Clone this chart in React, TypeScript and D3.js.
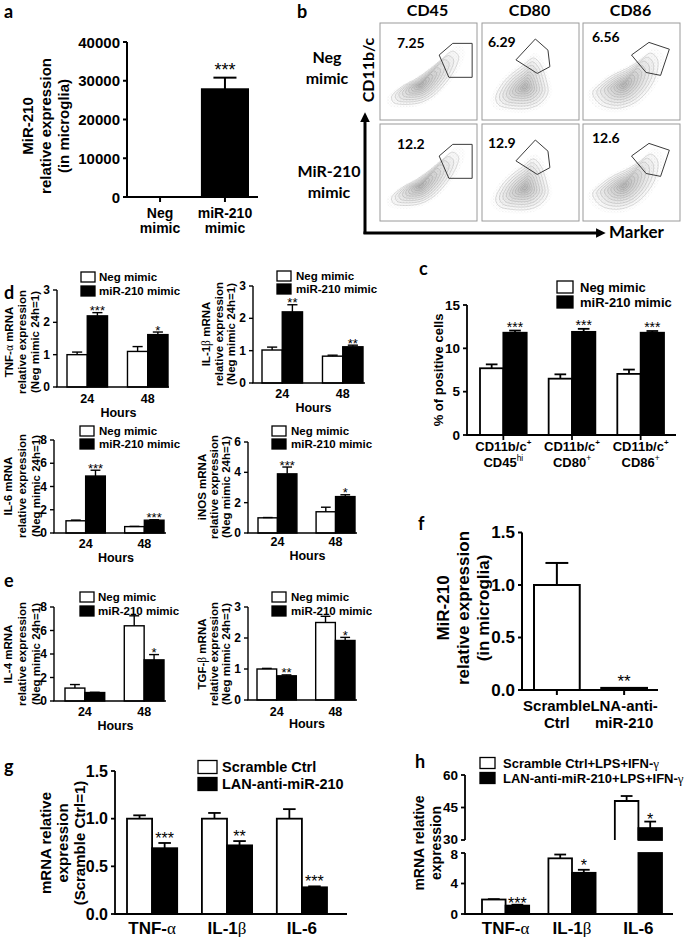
import React from "react";
import * as d3 from "d3";

const ARIAL = "'Liberation Sans', Arial, Helvetica, sans-serif";
const CAL = "Lato, 'Open Sans', sans-serif";
const SERIF = "'Liberation Serif', 'DejaVu Serif', serif";

// ---------------- data ----------------
// a
const aCategories = ["Neg mimic", "miR-210 mimic"];
const aValues = [1, 27800];
const aErrors = [0, 3000];
const aStars = ["", "***"];
const aTicks = [0, 10000, 20000, 30000, 40000];

// b (flow cytometry)
const flowMarkers = ["CD45", "CD80", "CD86"];
const flowRowLabels = [["Neg", "mimic"], ["MiR-210", "mimic"]];
const flowPercents = [["7.25", "6.29", "6.56"], ["12.2", "12.9", "12.6"]];
const flowGates: [number, number][][] = [
  [[0.61, 0.33], [0.75, 0.21], [0.95, 0.21], [0.95, 0.56], [0.71, 0.56]],
  [[0.35, 0.38], [0.55, 0.165], [0.68, 0.28], [0.7, 0.45], [0.57, 0.52]],
  [[0.5, 0.33], [0.68, 0.2], [0.89, 0.27], [0.8, 0.54], [0.65, 0.51]],
];
const flowClouds: [number, number][][] = [
  [[0.12, 0.76], [0.22, 0.66], [0.38, 0.57], [0.52, 0.47], [0.64, 0.37], [0.75, 0.29], [0.81, 0.34], [0.77, 0.48], [0.66, 0.64], [0.55, 0.75], [0.42, 0.82], [0.25, 0.84], [0.14, 0.82]],
  [[0.14, 0.78], [0.2, 0.64], [0.3, 0.53], [0.42, 0.44], [0.53, 0.36], [0.6, 0.42], [0.66, 0.58], [0.68, 0.72], [0.6, 0.83], [0.48, 0.88], [0.3, 0.88], [0.18, 0.85]],
  [[0.1, 0.72], [0.2, 0.61], [0.32, 0.53], [0.45, 0.47], [0.58, 0.39], [0.7, 0.31], [0.77, 0.38], [0.75, 0.55], [0.65, 0.72], [0.52, 0.83], [0.35, 0.88], [0.18, 0.84]],
];
const flowCloudCenters: [number, number][] = [[0.42, 0.64], [0.44, 0.66], [0.42, 0.64]];

// d, e
const hourCategories = ["24", "48"];
const mimicSeries = ["Neg mimic", "miR-210 mimic"];
const tnfNeg = [1.0, 1.1];
const tnfNegErr = [0.08, 0.15];
const tnfMiR = [2.2, 1.62];
const tnfMiRErr = [0.1, 0.08];
const tnfStars = ["***", "*"];
const il1bNeg = [1.02, 0.83];
const il1bNegErr = [0.09, 0.03];
const il1bMiR = [2.2, 1.12];
const il1bMiRErr = [0.22, 0.05];
const il1bStars = ["**", "**"];
const il6Neg = [1.05, 0.55];
const il6NegErr = [0.06, 0.02];
const il6MiR = [4.9, 1.1];
const il6MiRErr = [0.5, 0.04];
const il6Stars = ["***", "***"];
const inosNeg = [1.0, 1.4];
const inosNegErr = [0.02, 0.3];
const inosMiR = [3.9, 2.4];
const inosMiRErr = [0.45, 0.12];
const inosStars = ["***", "*"];
const il4Neg = [1.1, 6.4];
const il4NegErr = [0.3, 0.85];
const il4MiR = [0.72, 3.5];
const il4MiRErr = [0.02, 0.45];
const il4Stars = ["", "*"];
const tgfNeg = [1.0, 2.5];
const tgfNegErr = [0.02, 0.2];
const tgfMiR = [0.78, 1.92];
const tgfMiRErr = [0.03, 0.1];
const tgfStars = ["**", "*"];
const ticks3 = [0, 1, 2, 3];
const ticks6 = [0, 2, 4, 6];
const ticks8 = [0, 2, 4, 6, 8];

// c
const cMarkers = ["CD45", "CD80", "CD86"];
const cMarkerSups = ["hi", "+", "+"];
const cNeg = [7.7, 6.5, 7.05];
const cNegErr = [0.45, 0.5, 0.5];
const cMiR = [11.8, 11.9, 11.8];
const cMiRErr = [0.25, 0.35, 0.2];
const cStars = ["***", "***", "***"];
const cTicks = [0, 5, 10, 15];

// f
const fCategories = ["Scramble Ctrl", "LNA-anti- miR-210"];
const fValues = [1.0, 0.02];
const fErrors = [0.21, 0];
const fStars = ["", "**"];
const fTicks = [0, 0.5, 1.0, 1.5];

// g
const cytokines = ["TNF-α", "IL-1β", "IL-6"];
const gSeries = ["Scramble Ctrl", "LAN-anti-miR-210"];
const gScramble = [1.0, 1.0, 1.0];
const gScrambleErr = [0.035, 0.06, 0.1];
const gLAN = [0.69, 0.72, 0.28];
const gLANErr = [0.055, 0.045, 0.01];
const gStars = ["***", "**", "***"];
const gTicks = [0, 0.5, 1.0, 1.5];

// h
const hSeries = ["Scramble Ctrl+LPS+IFN-γ", "LAN-anti-miR-210+LPS+IFN-γ"];
const hScramble = [1.9, 7.3, 48];
const hScrambleErr = [0.05, 0.5, 2.3];
const hLAN = [1.1, 5.4, 35.5];
const hLANErr = [0.12, 0.4, 3];
const hStars = ["***", "*", "*"];
const hLowTicks = [0, 4, 8];
const hHighTicks = [30, 45, 60];

// ---------------- helpers ----------------
function G({ s }: { s: string }) {
  const parts = s.split(/([α-ω])/);
  return (
    <>
      {parts.map((p, i) =>
        /[α-ω]/.test(p) ? (
          <tspan key={i} fontFamily={SERIF} fontWeight="normal">{p}</tspan>
        ) : p ? (
          <tspan key={i}>{p}</tspan>
        ) : null
      )}
    </>
  );
}

type Series = { values: number[]; errors: number[]; fill: string | string[] };
type Legend = { labels: string[]; fills: string[]; boxX: number; boxW: number; boxH: number; textX: number; ys: number[]; font: number };
type Title = { lines: string[]; xs: number[]; cy: number; font: number };

function LegendBlock({ l }: { l: Legend }) {
  return (
    <g fontFamily={ARIAL} fontWeight="bold">
      {l.labels.map((lab, i) => (
        <g key={i}>
          <rect x={l.boxX} y={l.ys[i] - l.boxH / 2} width={l.boxW} height={l.boxH} fill={l.fills[i]} stroke="#000" strokeWidth={1.3} />
          <text x={l.textX} y={l.ys[i]} dominantBaseline="central" fontSize={l.font}><G s={lab} /></text>
        </g>
      ))}
    </g>
  );
}

function TitleBlock({ t }: { t: Title }) {
  return (
    <g fontFamily={ARIAL} fontWeight="bold" fontSize={t.font}>
      {t.lines.map((ln, i) => (
        <text key={i} transform={`translate(${t.xs[i]},${t.cy}) rotate(-90)`} textAnchor="middle" dominantBaseline="central"><G s={ln} /></text>
      ))}
    </g>
  );
}

type BarProps = {
  axisX: number; y0: number; yTop: number; yMax: number; ticks: number[];
  tickFmt?: (v: number) => string; tickFont: number;
  bandRange: [number, number]; padInner: number; xEnd: number;
  categories: string[]; series: Series[]; stars: string[]; starFont: number; starGap: number;
  xTicks?: boolean; xLabels: React.ReactNode[][]; xLabelYs: number[]; xLabelFont: number;
  xTitle?: { text: string; y: number; font: number };
  title: Title; legend?: Legend; sw: number;
};

function BarChart(p: BarProps) {
  const y = d3.scaleLinear().domain([0, p.yMax]).range([p.y0, p.yTop]);
  const xb = d3.scaleBand<string>().domain(p.categories).range(p.bandRange).paddingInner(p.padInner).paddingOuter(0);
  const n = p.series.length;
  const bw = xb.bandwidth() / n;
  const fmt = p.tickFmt ?? ((v: number) => String(v));
  const last = p.series[n - 1];
  const tl = 4;
  return (
    <g fontFamily={ARIAL} fontWeight="bold">
      {p.series.map((s, si) =>
        s.values.map((v, i) => {
          const x0 = (xb(p.categories[i]) as number) + si * bw;
          const top = y(v);
          const fill = Array.isArray(s.fill) ? s.fill[i] : s.fill;
          return <rect key={`b${si}-${i}`} x={x0} y={top} width={bw} height={Math.max(0, p.y0 - top)} fill={fill} stroke="#000" strokeWidth={p.sw} />;
        })
      )}
      {p.series.map((s, si) =>
        s.values.map((v, i) => {
          const e = s.errors[i];
          if (!(e > 0)) return null;
          const cx = (xb(p.categories[i]) as number) + si * bw + bw / 2;
          const et = y(v + e);
          return (
            <g key={`e${si}-${i}`} stroke="#000" strokeWidth={p.sw}>
              <line x1={cx} x2={cx} y1={y(v)} y2={et} />
              <line x1={cx - bw * 0.25} x2={cx + bw * 0.25} y1={et} y2={et} />
            </g>
          );
        })
      )}
      {last.values.map((v, i) => {
        if (!p.stars[i]) return null;
        const cx = (xb(p.categories[i]) as number) + (n - 1) * bw + bw / 2;
        const et = y(v + (last.errors[i] || 0));
        return (
          <text key={`s${i}`} x={cx} y={et - p.starGap + 0.43 * p.starFont} textAnchor="middle" fontSize={p.starFont} fontWeight="normal">{p.stars[i]}</text>
        );
      })}
      <line x1={p.axisX} x2={p.axisX} y1={p.y0} y2={p.yTop} stroke="#000" strokeWidth={p.sw} />
      <line x1={p.axisX - p.sw / 2} x2={p.xEnd} y1={p.y0} y2={p.y0} stroke="#000" strokeWidth={p.sw} />
      {p.ticks.map((t, i) => (
        <g key={`t${i}`}>
          <line x1={p.axisX - tl} x2={p.axisX} y1={y(t)} y2={y(t)} stroke="#000" strokeWidth={p.sw} />
          <text x={p.axisX - tl - 3} y={y(t)} textAnchor="end" dominantBaseline="central" fontSize={p.tickFont}>{fmt(t)}</text>
        </g>
      ))}
      {p.xTicks && p.categories.map((c, i) => {
        const cx = (xb(c) as number) + xb.bandwidth() / 2;
        return <line key={`xt${i}`} x1={cx} x2={cx} y1={p.y0} y2={p.y0 + 5} stroke="#000" strokeWidth={p.sw} />;
      })}
      {p.categories.map((c, i) => {
        const cx = (xb(c) as number) + xb.bandwidth() / 2;
        return (p.xLabels[i] || []).map((ln, j) => (
          <text key={`xl${i}-${j}`} x={cx} y={p.xLabelYs[j]} textAnchor="middle" fontSize={p.xLabelFont}>{ln}</text>
        ));
      })}
      {p.xTitle && (
        <text x={(p.bandRange[0] + p.bandRange[1]) / 2 + 1} y={p.xTitle.y} textAnchor="middle" fontSize={p.xTitle.font}>{p.xTitle.text}</text>
      )}
      <TitleBlock t={p.title} />
      {p.legend && <LegendBlock l={p.legend} />}
    </g>
  );
}

// ---------------- flow panel ----------------
const flowColX = [380, 482, 583];
const flowRowY = [23, 124];
const flowW = 97;
const flowH = 97;
const flowPctDx = [17, 6, 9];
const flowPctDy = [25, 24, 19];

function FlowPanel() {
  const cloudLine = d3.line<[number, number]>().curve(d3.curveCatmullRomClosed.alpha(0.5));
  const gateLine = d3.line<[number, number]>();
  const levels = [1, 0.87, 0.75, 0.63, 0.52, 0.42, 0.32, 0.23, 0.15, 0.08];
  return (
    <g>
      <defs>
        <pattern id="dots" width="3.1" height="3.1" patternUnits="userSpaceOnUse">
          <circle cx="0.7" cy="0.8" r="0.4" fill="#444" />
          <circle cx="2.3" cy="2.3" r="0.35" fill="#777" />
        </pattern>
        <marker id="arrowHead" viewBox="0 0 10 10" refX="2" refY="5" markerWidth="3.2" markerHeight="3.2" orient="auto">
          <path d="M0,0 L10,5 L0,10 z" fill="#000" />
        </marker>
      </defs>
      {flowRowY.map((by, r) =>
        flowColX.map((bx, c) => {
          const sx = d3.scaleLinear().domain([0, 1]).range([bx, bx + flowW]);
          const sy = d3.scaleLinear().domain([0, 1]).range([by, by + flowH]);
          const [ox, oy] = flowCloudCenters[c];
          const scaled = (k: number) => flowClouds[c].map(([px, py]) => [sx(ox + (px - ox) * k), sy(oy + (py - oy) * k)] as [number, number]);
          const gate = gateLine(flowGates[c].map(([gx, gy]) => [sx(gx), sy(gy)] as [number, number])) + "Z";
          return (
            <g key={`f${r}${c}`}>
              <rect x={bx} y={by} width={flowW} height={flowH} fill="#fff" stroke="#9a9a9a" strokeWidth={1} />
              <path d={cloudLine(scaled(1.17)) || ""} fill="url(#dots)" opacity={0.3} />
              {levels.map((k, li) => (
                <path key={li} d={cloudLine(scaled(k)) || ""} fill="#000" fillOpacity={0.028} stroke="#777" strokeOpacity={0.55} strokeWidth={0.45} />
              ))}
              <path d={gate} fill="none" stroke="#3a3a3a" strokeWidth={1} />
              <text x={bx + flowPctDx[c]} y={by + flowPctDy[c]} fontFamily={CAL} fontWeight="bold" fontSize={14}>{flowPercents[r][c]}</text>
            </g>
          );
        })
      )}
      {flowMarkers.map((m, c) => (
        <text key={m} x={flowColX[c] + flowW / 2 - 1} y={16} textAnchor="middle" fontFamily={CAL} fontWeight="bold" fontSize={16}>{m}</text>
      ))}
      {flowRowLabels.map((lines, r) =>
        lines.map((ln, j) => (
          <text key={`${r}${j}`} x={r === 0 ? 327 : 329} y={(r === 0 ? [63, 84] : [177, 198])[j]} textAnchor="middle" fontFamily={CAL} fontWeight="bold" fontSize={16}>{ln}</text>
        ))
      )}
      <text transform="translate(367,70) rotate(-90)" textAnchor="middle" dominantBaseline="central" fontFamily={CAL} fontWeight="bold" fontSize={16}>CD11b/c</text>
      <line x1={365} y1={234} x2={365} y2={120} stroke="#000" strokeWidth={3} markerEnd="url(#arrowHead)" />
      <line x1={363.5} y1={233} x2={598} y2={233} stroke="#000" strokeWidth={3} markerEnd="url(#arrowHead)" />
      <text x={609} y={238} fontFamily={CAL} fontWeight="bold" fontSize={17}>Marker</text>
    </g>
  );
}

// ---------------- panel h (broken axis) ----------------
function PanelH() {
  const axisX = 465, xEnd = 673, base = 914, sw = 1.8;
  const breakLow = 853, breakHigh = 840;
  const yLow = d3.scaleLinear().domain([0, 8]).range([base, breakLow]);
  const yHigh = d3.scaleLinear().domain([30, 60]).range([breakHigh, 775]);
  const xb = d3.scaleBand<string>().domain(cytokines).range([482, 662]).paddingInner(0.29).paddingOuter(0);
  const bw = xb.bandwidth() / 2;
  const series = [
    { values: hScramble, errors: hScrambleErr, fill: "#fff" },
    { values: hLAN, errors: hLANErr, fill: "#000" },
  ];
  const yOf = (v: number) => (v > 8 ? yHigh(v) : yLow(v));
  return (
    <g fontFamily={ARIAL} fontWeight="bold">
      {series.map((s, si) =>
        s.values.map((v, i) => {
          const x0 = (xb(cytokines[i]) as number) + si * bw;
          const cx = x0 + bw / 2;
          const e = s.errors[i];
          const et = yOf(v + e);
          const parts: React.ReactNode[] = [];
          if (v > 8) {
            const top = yHigh(v);
            if (s.fill === "#000") {
              parts.push(<rect key="u" x={x0} y={top} width={bw} height={breakHigh - top} fill="#000" stroke="#000" strokeWidth={sw} />);
              parts.push(<rect key="l" x={x0} y={breakLow} width={bw} height={base - breakLow} fill="#000" stroke="#000" strokeWidth={sw} />);
            } else {
              parts.push(<rect key="uf" x={x0} y={top} width={bw} height={breakHigh - top} fill="#fff" />);
              parts.push(<path key="u" d={`M${x0},${breakHigh}V${top}H${x0 + bw}V${breakHigh}`} fill="none" stroke="#000" strokeWidth={sw} />);
            }
          } else {
            const top = yLow(v);
            parts.push(<rect key="b" x={x0} y={top} width={bw} height={base - top} fill={s.fill} stroke="#000" strokeWidth={sw} />);
          }
          if (e > 0) {
            parts.push(<line key="e1" x1={cx} x2={cx} y1={yOf(v)} y2={et} stroke="#000" strokeWidth={sw} />);
            parts.push(<line key="e2" x1={cx - bw * 0.25} x2={cx + bw * 0.25} y1={et} y2={et} stroke="#000" strokeWidth={sw} />);
          }
          return <g key={`h${si}-${i}`}>{parts}</g>;
        })
      )}
      {hLAN.map((v, i) => {
        const cx = (xb(cytokines[i]) as number) + bw * 1.5;
        const et = yOf(v + hLANErr[i]);
        const gap = i === 1 ? 6 : 3;
        return <text key={`hs${i}`} x={cx} y={et - gap + 0.43 * 16} textAnchor="middle" fontSize={16} fontWeight="normal">{hStars[i]}</text>;
      })}
      <line x1={axisX} x2={axisX} y1={base} y2={breakLow} stroke="#000" strokeWidth={sw} />
      <line x1={axisX} x2={axisX} y1={breakHigh} y2={775} stroke="#000" strokeWidth={sw} />
      <line x1={axisX - sw / 2} x2={xEnd} y1={base} y2={base} stroke="#000" strokeWidth={sw} />
      {hLowTicks.map((t) => (
        <g key={`lt${t}`}>
          <line x1={axisX - 4} x2={axisX} y1={yLow(t)} y2={yLow(t)} stroke="#000" strokeWidth={sw} />
          <text x={axisX - 7} y={yLow(t) + (t === 8 ? 1 : 0)} textAnchor="end" dominantBaseline="central" fontSize={13.5}>{t}</text>
        </g>
      ))}
      {hHighTicks.map((t) => (
        <g key={`ht${t}`}>
          <line x1={axisX - 4} x2={axisX} y1={yHigh(t)} y2={yHigh(t)} stroke="#000" strokeWidth={sw} />
          <text x={axisX - 7} y={yHigh(t) - (t === 30 ? 1 : 0)} textAnchor="end" dominantBaseline="central" fontSize={13.5}>{t}</text>
        </g>
      ))}
      {cytokines.map((c) => (
        <text key={c} x={(xb(c) as number) + xb.bandwidth() / 2} y={934} textAnchor="middle" fontSize={17}><G s={c} /></text>
      ))}
      <TitleBlock t={{ lines: ["mRNA relative", "expression"], xs: [419, 436], cy: 843, font: 14 }} />
      <LegendBlock l={{ labels: hSeries, fills: ["#fff", "#000"], boxX: 480, boxW: 15, boxH: 11, textX: 503, ys: [763, 778], font: 13 }} />
    </g>
  );
}

// ---------------- App ----------------
const dTitleTail = ["relative expression", "(Neg mimic 24h=1)"];
const hoursLabels = hourCategories.map((h) => [h]);

export default function App() {
  const mimicLegend = (boxX: number, textX: number, ys: number[]): Legend => ({
    labels: mimicSeries, fills: ["#fff", "#000"], boxX, boxW: 14, boxH: 10, textX, ys, font: 11.5,
  });
  const dCommon = {
    tickFont: 12, padInner: 0.33, categories: hourCategories, starFont: 13, starGap: 3,
    xLabels: hoursLabels, xLabelFont: 12.5, sw: 1.4,
  };
  const pair = (neg: number[], negE: number[], mir: number[], mirE: number[]): Series[] => [
    { values: neg, errors: negE, fill: "#fff" },
    { values: mir, errors: mirE, fill: "#000" },
  ];
  const letters: [string, number, number][] = [
    ["a", 4, 18], ["b", 297, 18], ["c", 419, 275], ["d", 4, 299], ["e", 4, 587], ["f", 418, 530], ["g", 4, 773], ["h", 415, 768],
  ];
  return (
    <svg width={686} height={937} viewBox="0 0 686 937" xmlns="http://www.w3.org/2000/svg"
      style={{ position: "absolute", left: 0, top: 0, background: "#fff" }}>
      <rect width={686} height={937} fill="#fff" />
      {letters.map(([l, x, y]) => (
        <text key={l} x={x} y={y} fontFamily={CAL} fontWeight="bold" fontSize={18}>{l}</text>
      ))}

      {/* a */}
      <BarChart axisX={127} y0={197} yTop={42} yMax={40000} ticks={aTicks} tickFont={15}
        bandRange={[137, 248]} padInner={0.29} xEnd={258} categories={aCategories}
        series={[{ values: aValues, errors: aErrors, fill: "#000" }]} stars={aStars} starFont={18} starGap={9}
        xTicks xLabels={aCategories.map((c) => c.split(" "))} xLabelYs={[218, 233]} xLabelFont={14}
        title={{ lines: ["MiR-210", "relative expression", "(in microglia)"], xs: [27, 45, 63], cy: 126, font: 15 }} sw={2} />

      <FlowPanel />

      {/* d */}
      <BarChart {...dCommon} axisX={57} y0={387} yTop={290} yMax={3} ticks={ticks3} bandRange={[67, 168]} xEnd={169}
        series={pair(tnfNeg, tnfNegErr, tnfMiR, tnfMiRErr)} stars={tnfStars} xLabelYs={[403]}
        xTitle={{ text: "Hours", y: 417, font: 12.5 }}
        title={{ lines: ["TNF-α mRNA", ...dTitleTail], xs: [9, 22, 35], cy: 342, font: 11.5 }}
        legend={mimicLegend(81, 99, [277, 291])} />
      <BarChart {...dCommon} axisX={253} y0={383} yTop={286} yMax={3} ticks={ticks3} bandRange={[262, 363]} xEnd={365}
        series={pair(il1bNeg, il1bNegErr, il1bMiR, il1bMiRErr)} stars={il1bStars} xLabelYs={[398]}
        xTitle={{ text: "Hours", y: 412, font: 12.5 }}
        title={{ lines: ["IL-1β mRNA", ...dTitleTail], xs: [206, 219, 231], cy: 334, font: 11.5 }}
        legend={mimicLegend(277, 296, [276, 289])} />
      <BarChart {...dCommon} axisX={54} y0={533} yTop={440} yMax={8} ticks={ticks8} bandRange={[66, 164]} xEnd={166}
        series={pair(il6Neg, il6NegErr, il6MiR, il6MiRErr)} stars={il6Stars} xLabelYs={[548]}
        xTitle={{ text: "Hours", y: 562, font: 12.5 }}
        title={{ lines: ["IL-6 mRNA", ...dTitleTail], xs: [8, 22, 36], cy: 486, font: 11.5 }}
        legend={mimicLegend(80, 99, [431, 444])} />
      <BarChart {...dCommon} axisX={248} y0={533} yTop={442} yMax={6} ticks={ticks6} bandRange={[258, 355]} xEnd={357}
        series={pair(inosNeg, inosNegErr, inosMiR, inosMiRErr)} stars={inosStars} xLabelYs={[546]}
        xTitle={{ text: "Hours", y: 560, font: 12.5 }}
        title={{ lines: ["iNOS mRNA", ...dTitleTail], xs: [202, 214, 226], cy: 487, font: 11.5 }}
        legend={mimicLegend(272, 291, [431, 444])} />

      {/* e */}
      <BarChart {...dCommon} axisX={54} y0={701} yTop={607} yMax={8} ticks={ticks8} bandRange={[65, 164]} xEnd={166}
        series={pair(il4Neg, il4NegErr, il4MiR, il4MiRErr)} stars={il4Stars} xLabelYs={[716]}
        xTitle={{ text: "Hours", y: 730, font: 12.5 }}
        title={{ lines: ["IL-4 mRNA", ...dTitleTail], xs: [8, 22, 36], cy: 654, font: 11.5 }}
        legend={mimicLegend(80, 98, [597, 611])} />
      <BarChart {...dCommon} axisX={248} y0={700} yTop={607} yMax={3} ticks={ticks3} bandRange={[257, 355]} xEnd={357}
        series={pair(tgfNeg, tgfNegErr, tgfMiR, tgfMiRErr)} stars={tgfStars} xLabelYs={[716]}
        xTitle={{ text: "Hours", y: 728, font: 12.5 }}
        title={{ lines: ["TGF-β mRNA", ...dTitleTail], xs: [202, 214, 226], cy: 654, font: 11.5 }}
        legend={mimicLegend(272, 291, [597, 611])} />

      {/* c */}
      <BarChart axisX={467} y0={435} yTop={305} yMax={15} ticks={cTicks} tickFont={13.5}
        bandRange={[480, 664]} padInner={0.32} xEnd={676} categories={cMarkers}
        series={pair(cNeg, cNegErr, cMiR, cMiRErr)} stars={cStars} starFont={14} starGap={5}
        xTicks xLabels={cMarkers.map((m, i) => [
          <><tspan>CD11b/c</tspan><tspan dy={-6} fontSize={8}>+</tspan></>,
          <><tspan>{m}</tspan><tspan dy={-6} fontSize={8.5} fontWeight="normal">{cMarkerSups[i]}</tspan></>,
        ])}
        xLabelYs={[451, 467]} xLabelFont={13}
        title={{ lines: ["% of positive cells"], xs: [438], cy: 370, font: 13 }}
        legend={{ labels: mimicSeries, fills: ["#fff", "#000"], boxX: 557, boxW: 16, boxH: 12, textX: 580, ys: [287, 302], font: 13 }}
        sw={1.8} />

      {/* f */}
      <BarChart axisX={522} y0={690} yTop={532.5} yMax={1.5} ticks={fTicks} tickFmt={(v) => v.toFixed(1)} tickFont={17}
        bandRange={[534, 647]} padInner={0.32} xEnd={658} categories={fCategories}
        series={[{ values: fValues, errors: fErrors, fill: ["#fff", "#000"] }]} stars={fStars} starFont={17} starGap={8}
        xTicks xLabels={fCategories.map((c) => c.split(" "))} xLabelYs={[711, 728]} xLabelFont={15}
        title={{ lines: ["MiR-210", "relative expression", "(in microglia)"], xs: [443, 463, 483], cy: 608, font: 17 }} sw={2} />

      {/* g */}
      <BarChart axisX={115} y0={914} yTop={771} yMax={1.5} ticks={gTicks} tickFmt={(v) => v.toFixed(1)} tickFont={16}
        bandRange={[127, 327]} padInner={0.33} xEnd={347} categories={cytokines}
        series={pair(gScramble, gScrambleErr, gLAN, gLANErr)} stars={gStars} starFont={16} starGap={6}
        xLabels={cytokines.map((c) => [<G s={c} />])} xLabelYs={[934]} xLabelFont={17}
        title={{ lines: ["mRNA relative", "expression", "(Scramble Ctrl=1)"], xs: [45, 62, 79], cy: 843, font: 15 }}
        legend={{ labels: gSeries, fills: ["#fff", "#000"], boxX: 198, boxW: 19, boxH: 13, textX: 222, ys: [767, 784], font: 14.5 }}
        sw={1.8} />

      <PanelH />
    </svg>
  );
}
